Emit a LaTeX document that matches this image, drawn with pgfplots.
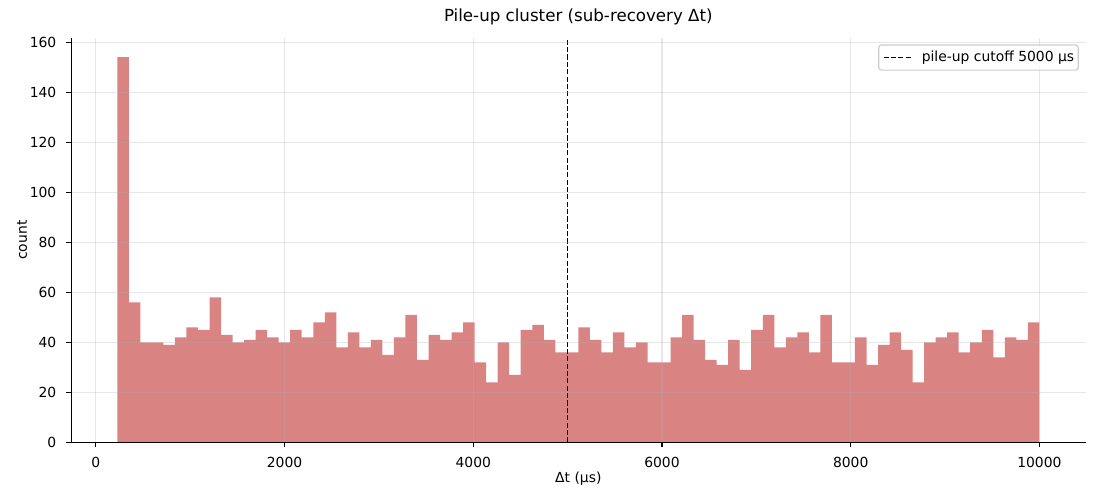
\documentclass[border=0pt]{standalone}
\usepackage{fontspec}
\setmainfont{DejaVu Sans}
\usepackage{pgfplots}
\usepackage{pgfplotstable}
\pgfplotsset{compat=1.18}
\definecolor{barred}{RGB}{217,131,131}
\definecolor{gridgray}{RGB}{176,176,176}
\definecolor{legedge}{RGB}{204,204,204}
\pgfplotstableread{
x y
227.0 154
349.2 56
471.3 40
593.5 40
715.7 39
837.8 42
960.0 46
1082.1 45
1204.3 58
1326.5 43
1448.6 40
1570.8 41
1693.0 45
1815.1 42
1937.3 40
2059.4 45
2181.6 42
2303.8 48
2425.9 52
2548.1 38
2670.3 44
2792.4 38
2914.6 41
3036.7 35
3158.9 42
3281.1 51
3403.2 33
3525.4 43
3647.6 41
3769.7 44
3891.9 48
4014.0 32
4136.2 24
4258.4 40
4380.5 27
4502.7 45
4624.9 47
4747.0 41
4869.2 36
4991.3 36
5113.5 46
5235.7 41
5357.8 36
5480.0 44
5602.2 38
5724.3 40
5846.5 32
5968.6 32
6090.8 42
6213.0 51
6335.1 41
6457.3 33
6579.5 31
6701.6 41
6823.8 29
6945.9 45
7068.1 51
7190.3 38
7312.4 42
7434.6 44
7556.8 36
7678.9 51
7801.1 32
7923.2 32
8045.4 42
8167.6 31
8289.7 39
8411.9 44
8534.1 37
8656.2 24
8778.4 40
8900.5 42
9022.7 44
9144.9 36
9267.0 40
9389.2 45
9511.4 34
9633.5 42
9755.7 41
9877.8 48
10000.0 48
}\histtable
\begin{document}
\begin{tikzpicture}
\useasboundingbox (-51.26pt,-41.5pt) rectangle (740.74pt,318.5pt);
\begin{axis}[
  at={(0,0)}, anchor=south west,
  scale only axis, width=730.3pt, height=291.2pt,
  xmin=-261.65, xmax=10488.65, ymin=0, ymax=161.7,
  axis lines*=left,
  axis line style={line width=0.8pt, black},
  xtick={0,2000,...,10000}, ytick={0,20,...,160},
  scaled x ticks=false, scaled y ticks=false,
  tick align=outside, major tick length=3.5pt,
  tick style={line width=0.8pt, black},
  minor tick num=0,
  grid=major,
  major grid style={gridgray, opacity=0.3, line width=0.8pt},
  axis on top,
  /pgf/number format/assume math mode=true,
  /pgf/number format/1000 sep={},
  ticklabel style={font=\fontsize{10}{12}\selectfont},
  xticklabel style={anchor=base, inner sep=0pt, yshift=-14.3pt},
  yticklabel style={anchor=east, inner sep=0pt, xshift=-7pt},
  title={Pile-up cluster (sub-recovery Δt)},
  title style={font=\fontsize{12}{14}\selectfont, at={(axis description cs:0.5,1)}, anchor=base, yshift=6.1pt, inner sep=0pt},
  xlabel={Δt (μs)},
  xlabel style={font=\fontsize{10}{12}\selectfont, at={(axis description cs:0.5,0)}, anchor=base, yshift=-28.7pt, inner sep=0pt},
  ylabel={count},
  ylabel style={font=\fontsize{10}{12}\selectfont, at={(axis description cs:0,0.5)}, anchor=center, yshift=35.3pt, inner sep=0pt},
  legend style={at={(axis description cs:1,1)}, anchor=north east, xshift=-4.8pt, yshift=-4.7pt,
    draw=legedge, line width=0.8pt, rounded corners=2pt, fill=white, fill opacity=0.8, text opacity=1,
    font=\fontsize{10}{12}\selectfont, inner xsep=3pt, inner ysep=2pt, column sep=7pt,
    nodes={inner xsep=0pt, inner ysep=2.5pt}},
  legend cell align=left,
]
\addplot[ybar interval, fill=barred, draw=none, forget plot] table[x=x, y=y] {\histtable};
\addplot[black, line width=1pt, dash pattern=on 3.7pt off 1.6pt,
  legend image code/.code={\draw[black, line width=1pt, dash pattern=on 3.7pt off 1.6pt] (0pt,0pt) -- (20pt,0pt);}]
  coordinates {(5000,0) (5000,161.7)};
\addlegendentry{pile-up cutoff 5000 μs}
\end{axis}
\end{tikzpicture}
\end{document}
